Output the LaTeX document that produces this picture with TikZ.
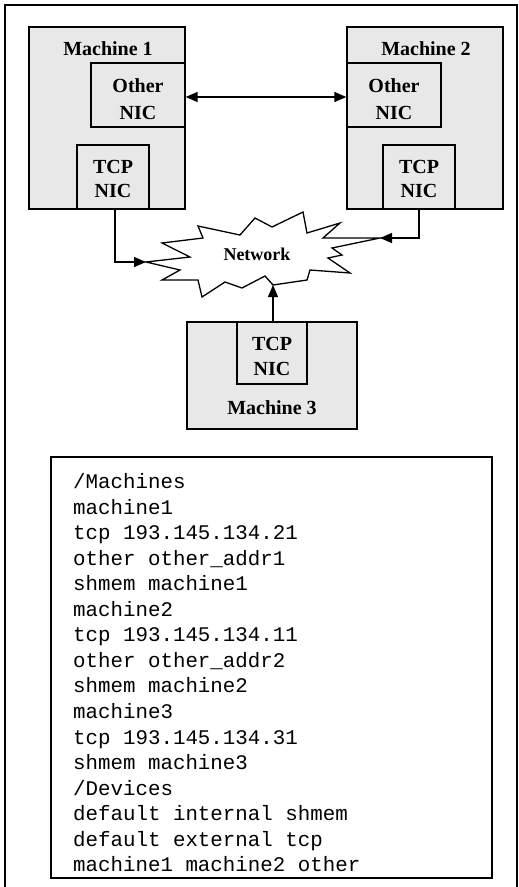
\documentclass[tikz,border=0pt]{standalone}
\usepackage{fontspec}
\setmainfont{Liberation Serif}
\newfontfamily\codefont{Liberation Mono}
\usetikzlibrary{arrows.meta}
\definecolor{boxgrey}{HTML}{E8E8E8}
\tikzset{
  mbox/.style={draw, line width=1.3pt, fill=boxgrey, inner sep=0pt},
  lbl/.style={inner sep=0pt, align=center, font=\fontsize{20}{26}\selectfont\bfseries},
  conn/.style={line width=1.3pt, -{Triangle[length=12pt,width=10pt]}},
  codeline/.style={inner sep=0pt, anchor=base west, font=\fontsize{20.8}{25.5}\selectfont\codefont}
}
\begin{document}
\begin{tikzpicture}[x=1pt,y=-1pt]
\useasboundingbox (0,0) rectangle (519,887);
% outer frame
\draw[line width=2pt] (5,895) -- (5,5) -- (516.5,5) -- (516.5,895);

% machines
\node[mbox, minimum width=156pt, minimum height=182pt] (m1) at (107,118) {};
\node[mbox, minimum width=156pt, minimum height=182pt] (m2) at (425,118) {};
\node[mbox, minimum width=170pt, minimum height=107pt] (m3) at (272,375.5) {};

\node[lbl] (m1l) at (108,49) {Machine 1};
\node[lbl] (m2l) at (426,49) {Machine 2};
\node[lbl] (m3l) at (272,408) {Machine 3};

% NICs
\node[mbox, minimum width=94pt, minimum height=64pt] (o1) at (138,95) {};
\node[mbox, minimum width=94pt, minimum height=64pt] (o2) at (394,95) {};
\node[mbox, minimum width=72pt, minimum height=64pt] (t1) at (113,177) {};
\node[mbox, minimum width=72pt, minimum height=64pt] (t2) at (419,177) {};
\node[mbox, minimum width=70pt, minimum height=62pt] (t3) at (272,353) {};

\node[lbl, font=\fontsize{20}{27}\selectfont\bfseries] (o1l) at (138,99) {Other\\NIC};
\node[lbl, font=\fontsize{20}{27}\selectfont\bfseries] (o2l) at (394,99) {Other\\NIC};
\node[lbl, font=\fontsize{20}{24.5}\selectfont\bfseries] (t1l) at (113,179) {TCP\\NIC};
\node[lbl, font=\fontsize{20}{24.5}\selectfont\bfseries] (t2l) at (419,179) {TCP\\NIC};
\node[lbl, font=\fontsize{20}{25}\selectfont\bfseries] (t3l) at (272,356.5) {TCP\\NIC};

% network cloud
\draw[line width=1.3pt, fill=white]
  (146,262) -- (190,257) -- (162,243) -- (203,238) -- (198,226) -- (240,235)
  -- (255,218) -- (272,227) -- (303,212) -- (307,233) -- (340,223) -- (323,238)
  -- (380,238) -- (332,248) -- (342,255) -- (328,258) -- (350,273) -- (310,270)
  -- (307,280) -- (273,285) -- (265,276) -- (242,288) -- (225,282) -- (202,297)
  -- (198,280) -- (162,280) -- (180,270) -- cycle;
\coordinate (c1) at (146,262);
\coordinate (c2) at (380,238);
\coordinate (c3) at (273,285);
\node[lbl, font=\fontsize{18}{22}\selectfont\bfseries] (net) at (257,254) {Network};

% connectors
\draw[line width=1.3pt, {Triangle[length=12pt,width=10pt]}-{Triangle[length=12pt,width=10pt]}]
  ([yshift=-2pt]o1.east) -- ([yshift=-2pt]o2.west);
\draw[conn] ([xshift=2pt]t1.south) |- (c1);
\draw[conn] (t2.south) |- (c2);
\draw[conn] ([xshift=1pt]t3.north) -- (c3);

% config box
\node[draw, line width=1.5pt, fill=white, inner sep=0pt, minimum width=441pt, minimum height=421pt] (cfg) at (271.5,667.5) {};
\foreach \t [count=\i] in {/Machines, machine1, tcp 193.145.134.21, other other\_addr1,
  shmem machine1, machine2, tcp 193.145.134.11, other other\_addr2, shmem machine2,
  machine3, tcp 193.145.134.31, shmem machine3, /Devices, default internal shmem,
  default external tcp, machine1 machine2 other}
  \node[codeline, name=line\i] at (73, {488.5+(\i-1)*25.55}) {\t};
\end{tikzpicture}
\end{document}
